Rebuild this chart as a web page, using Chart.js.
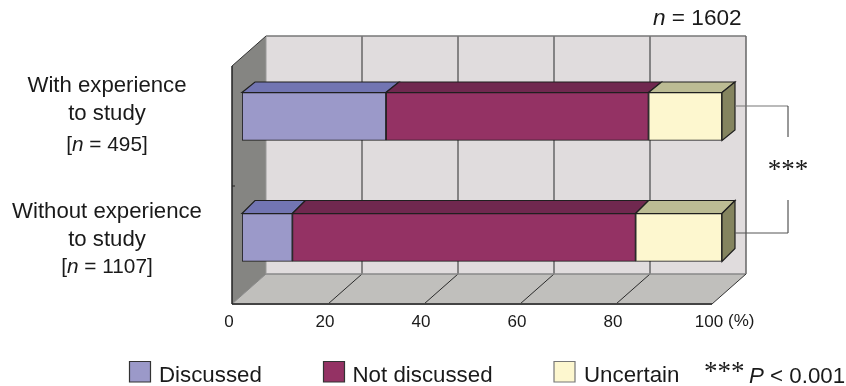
<!DOCTYPE html>
<html>
<head>
<meta charset="utf-8">
<style>
  html, body { margin: 0; padding: 0; background: #fff; }
  canvas { display: block; }
</style>
<script src="https://cdn.jsdelivr.net/npm/chart.js@4"></script>
</head>
<body>
<canvas id="chart" width="846" height="386"></canvas>
<script>
const categories = ["With experience to study", "Without experience to study"];
const rowLines = [["With experience", "to study"], ["Without experience", "to study"]];
const rowCounts = [495, 1107];
const totalCount = 1602;
const seriesNames = ["Discussed", "Not discussed", "Uncertain"];
const discussed = [30, 10.5];
const notDiscussed = [54.7, 71.5];
const uncertain = [15.3, 18];
const xTicks = [0, 20, 40, 60, 80, 100];

const frontColors = ["#9b99c9", "#943264", "#fdf7cf"];
const topColors = ["#7275b2", "#70284f", "#bcbc94"];
const sideColor = "#84845f";
const barDepth = [[13, 10.5], [13, 13]];
const rowBaselines = [[-24.5, 3.5, 34.5], [-19.5, 8, 35.5]];
const sans = '"Liberation Sans", Arial, sans-serif';
const serif = '"Liberation Serif", serif';

function polygon(ctx, pts, fill, stroke, lw) {
  ctx.beginPath();
  pts.forEach((p, i) => i ? ctx.lineTo(p[0], p[1]) : ctx.moveTo(p[0], p[1]));
  ctx.closePath();
  if (fill) { ctx.fillStyle = fill; ctx.fill(); }
  if (stroke) { ctx.strokeStyle = stroke; ctx.lineWidth = lw || 1; ctx.stroke(); }
}

function line(ctx, x1, y1, x2, y2, color, lw) {
  ctx.beginPath();
  ctx.moveTo(x1, y1);
  ctx.lineTo(x2, y2);
  ctx.strokeStyle = color;
  ctx.lineWidth = lw || 1;
  ctx.stroke();
}

// text made of several runs, each with its own font
function runs(ctx, x, y, parts, align) {
  ctx.textBaseline = "alphabetic";
  ctx.textAlign = "left";
  ctx.fillStyle = "#1a1a1a";
  let width = 0;
  parts.forEach(p => { ctx.font = p[1]; width += ctx.measureText(p[0]).width; });
  let cx = align === "center" ? x - width / 2 : x;
  parts.forEach(p => {
    ctx.font = p[1];
    ctx.fillText(p[0], cx, y);
    cx += ctx.measureText(p[0]).width;
  });
}

// back wall, side wall and floor behind the bars
const wallsPlugin = {
  id: "walls",
  beforeDatasetsDraw(chart) {
    const { ctx, scales: { x, y } } = chart;
    const backX = v => x.getPixelForValue(v) + 24;
    const frontX = v => x.getPixelForValue(v) - 10;
    const wallTop = y.top - 20, backFloor = y.bottom - 24, frontFloor = y.bottom + 6;
    const frontTop = y.top + 10;
    ctx.save();
    polygon(ctx, [[backX(0), wallTop], [backX(100), wallTop], [backX(100), backFloor], [backX(0), backFloor]], "#e0dcdd");
    polygon(ctx, [[frontX(0), frontFloor], [frontX(100), frontFloor], [backX(100), backFloor], [backX(0), backFloor]], "#c0bfbc");
    polygon(ctx, [[frontX(0), frontTop], [backX(0), wallTop], [backX(0), backFloor], [frontX(0), frontFloor]], "#858582");

    xTicks.slice(1, -1).forEach(v => {
      if (v < 60) line(ctx, backX(v), wallTop, backX(v), backFloor, "#2a2a2a", 1);
      else line(ctx, backX(v), wallTop, backX(v), backFloor, "#666", 1.5);
      line(ctx, backX(v), backFloor, frontX(v), frontFloor, "#2a2a2a", 1);
    });
    line(ctx, backX(0), wallTop, backX(100), wallTop, "#777", 1.5);
    line(ctx, backX(100), wallTop, backX(100), backFloor, "#666", 1.5);
    line(ctx, backX(0), backFloor, backX(100), backFloor, "#888", 1.5);
    line(ctx, backX(0), wallTop, backX(0), backFloor, "#999", 1);
    line(ctx, backX(0), backFloor, frontX(0), frontFloor, "#888", 1);
    line(ctx, backX(100), backFloor, frontX(100), frontFloor, "#333", 1);
    line(ctx, frontX(0), frontFloor, frontX(100), frontFloor, "#444", 2);
    line(ctx, frontX(0), frontTop, frontX(0), frontFloor, "#222", 1.5);
    line(ctx, frontX(0), frontTop, backX(0), wallTop, "#333", 1);
    line(ctx, frontX(0), (frontTop + frontFloor) / 2 + 1, frontX(0) + 3, (frontTop + frontFloor) / 2 + 1, "#222", 1);
    ctx.restore();
  }
};

// top and end faces of the bars, brackets and all the annotation text
const facesPlugin = {
  id: "faces",
  afterDatasetsDraw(chart) {
    const { ctx, scales: { x, y } } = chart;
    ctx.save();
    chart.data.datasets.forEach((ds, i) => {
      chart.getDatasetMeta(i).data.forEach((bar, j) => {
        const [dx, dy] = barDepth[j];
        const top = bar.y - bar.height / 2, bottom = bar.y + bar.height / 2;
        polygon(ctx, [[bar.base, top], [bar.x, top], [bar.x + dx, top - dy], [bar.base + dx, top - dy]], topColors[i], "#1f1f1f", 1.2);
        if (i === chart.data.datasets.length - 1) {
          polygon(ctx, [[bar.x, top], [bar.x + dx, top - dy], [bar.x + dx, bottom - dy], [bar.x, bottom]], sideColor, "#1f1f1f", 1.2);
        }
      });
    });

    // significance bracket between the two rows
    const end = x.getPixelForValue(100) + 13, bx = end + 53;
    const y1 = y.getPixelForValue(0) - 10.5, y2 = y.getPixelForValue(1) - 4.5;
    line(ctx, end, y1, bx, y1, "#777", 1.2);
    line(ctx, bx, y1, bx, y1 + 31, "#333", 1);
    line(ctx, bx, y2 - 33, bx, y2, "#333", 1);
    line(ctx, end, y2, bx, y2, "#555", 1);
    ctx.textAlign = "center";
    ctx.textBaseline = "alphabetic";
    ctx.fillStyle = "#1a1a1a";
    ctx.font = "27px " + serif;
    ctx.fillText("***", bx, 178);

    // row labels
    rowLines.forEach((lines, j) => {
      const cy = y.getPixelForValue(j);
      const base = rowBaselines[j];
      ctx.textAlign = "center";
      ctx.fillStyle = "#1a1a1a";
      ctx.font = "22.2px " + sans;
      ctx.textBaseline = "alphabetic";
      ctx.fillText(lines[0], 107, cy + base[0]);
      ctx.fillText(lines[1], 107, cy + base[1]);
      runs(ctx, 107, cy + base[2], [["[", "20.8px " + sans], ["n", "italic 20.8px " + sans], [" = " + rowCounts[j] + "]", "20.8px " + sans]], "center");
    });

    runs(ctx, 653, 24.5, [["n", "italic 22.6px " + sans], [" = " + totalCount, "22.6px " + sans]]);

    // unit after the last tick label
    ctx.textAlign = "left";
    ctx.font = "17px " + sans;
    ctx.fillStyle = "#1a1a1a";
    ctx.fillText("(%)", 728, 326);

    // legend row
    const boxes = [129.5, 323.5, 554];
    const labelsX = [159, 352.5, 584];
    seriesNames.forEach((name, i) => {
      polygon(ctx, [[boxes[i], 361.5], [boxes[i] + 21, 361.5], [boxes[i] + 21, 382], [boxes[i], 382]], frontColors[i], i === 2 ? "#777" : "#333", 1.2);
      ctx.font = "22.3px " + sans;
      ctx.fillStyle = "#1a1a1a";
      ctx.textAlign = "left";
      ctx.fillText(name, labelsX[i], 382);
    });
    runs(ctx, 704, 380, [["***", "27px " + serif]]);
    runs(ctx, 749, 382.5, [["P", "italic 22.3px " + sans], [" < 0.001", "22.3px " + sans]]);
    ctx.restore();
  }
};

const makeSeries = (i, values) => ({
  label: seriesNames[i],
  data: values,
  backgroundColor: frontColors[i],
  borderColor: "#1f1f1f",
  borderWidth: 1.2,
  borderSkipped: false,
  barThickness: 48
});

new Chart(document.getElementById("chart").getContext("2d"), {
  type: "bar",
  data: {
    labels: categories,
    datasets: [makeSeries(0, discussed), makeSeries(1, notDiscussed), makeSeries(2, uncertain)]
  },
  options: {
    indexAxis: "y",
    responsive: false,
    animation: false,
    layout: { padding: { left: 242, right: 124, top: 56, bottom: 0 } },
    plugins: {
      legend: { display: false },
      tooltip: { enabled: false },
      title: { display: false }
    },
    scales: {
      x: {
        stacked: true,
        min: 0,
        max: 100,
        afterBuildTicks: axis => { axis.ticks = xTicks.map(v => ({ value: v })); },
        afterFit: axis => { axis.height = 88; },
        grid: { display: false, drawTicks: false },
        border: { display: false },
        ticks: {
          autoSkip: false,
          maxRotation: 0,
          padding: 14,
          labelOffset: -13,
          color: "#1a1a1a",
          font: { family: sans, size: 17 }
        }
      },
      y: {
        stacked: true,
        afterFit: axis => { axis.width = 0; },
        grid: { display: false, drawTicks: false },
        border: { display: false },
        ticks: { display: false }
      }
    }
  },
  plugins: [wallsPlugin, facesPlugin]
});
</script>
</body>
</html>
